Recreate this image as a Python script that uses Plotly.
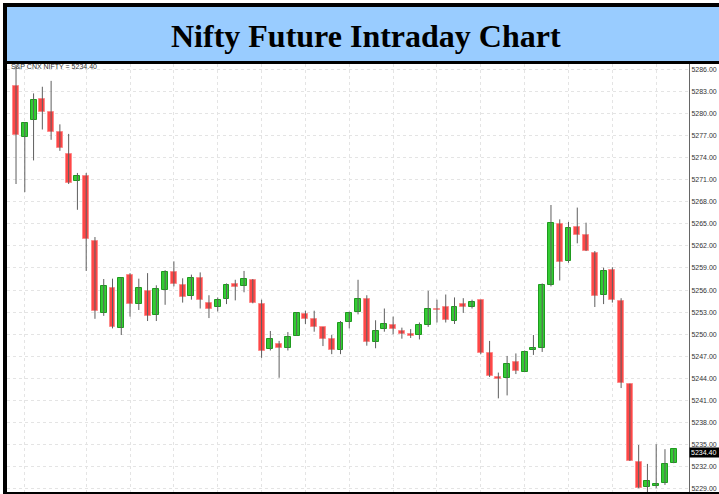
import plotly.graph_objects as go

# ---------------- data ----------------
opens = [5283.7, 5276.8, 5279.1, 5281.9, 5280.2, 5277.5, 5274.5, 5270.8, 5271.5, 5262.7,
         5252.9, 5256.3, 5250.9, 5258.05, 5254.1, 5255.9, 5252.6, 5256.0, 5258.4, 5256.7,
         5255.2, 5257.7, 5254.3, 5253.7, 5254.75, 5256.8, 5256.5, 5257.4, 5254.1, 5248.0,
         5248.7, 5248.2, 5249.8, 5252.76, 5252.1, 5250.95, 5249.4, 5247.9, 5251.6, 5253.07,
         5254.75, 5249.0, 5250.7, 5251.2, 5250.5, 5250.1, 5249.9, 5251.2, 5253.5, 5253.75,
         5251.85, 5254.1, 5253.7, 5254.7, 5247.4, 5244.25, 5244.0, 5246.2, 5244.9, 5247.9,
         5248.1, 5256.7, 5265.0, 5259.9, 5264.5, 5263.5, 5261.1, 5255.3, 5258.7, 5254.5,
         5243.2, 5232.6, 5229.3, 5229.4, 5229.86, 5232.57]
highs = [5286.6, 5278.8, 5282.7, 5283.6, 5284.4, 5278.5, 5277.2, 5271.9, 5271.9, 5263.2,
         5257.5, 5257.55, 5257.7, 5258.3, 5257.55, 5258.3, 5256.65, 5258.7, 5259.9, 5257.6,
         5258.1, 5258.4, 5255.3, 5255.0, 5256.9, 5257.4, 5258.6, 5257.5, 5254.7, 5250.45,
         5249.1, 5250.3, 5253.0, 5253.2, 5253.2, 5251.0, 5249.9, 5251.8, 5253.07, 5257.4,
         5255.3, 5251.9, 5253.5, 5252.4, 5250.9, 5250.7, 5251.6, 5255.9, 5254.7, 5255.4,
         5255.0, 5254.9, 5254.7, 5254.7, 5249.1, 5244.8, 5247.06, 5247.4, 5247.8, 5249.9,
         5256.9, 5267.55, 5265.6, 5265.25, 5267.2, 5265.15, 5261.3, 5259.04, 5259.1, 5254.9,
         5243.3, 5234.97, 5232.4, 5235.07, 5234.4, 5234.4]
lows = [5270.4, 5269.3, 5273.6, 5277.8, 5276.4, 5274.9, 5270.4, 5266.9, 5258.6, 5252.1,
        5252.5, 5250.8, 5249.9, 5252.4, 5253.3, 5251.8, 5251.8, 5254.0, 5256.5, 5254.3,
        5254.7, 5253.5, 5252.2, 5253.1, 5254.1, 5254.6, 5255.7, 5254.2, 5246.8, 5247.8,
        5244.1, 5247.8, 5249.8, 5251.4, 5250.35, 5248.4, 5247.3, 5247.3, 5250.8, 5252.7,
        5248.45, 5248.1, 5250.35, 5250.0, 5249.4, 5249.5, 5249.3, 5251.0, 5251.6, 5251.6,
        5251.4, 5252.9, 5253.5, 5247.3, 5244.2, 5241.3, 5241.7, 5244.6, 5244.9, 5247.2,
        5247.6, 5256.5, 5257.3, 5259.7, 5262.35, 5261.3, 5253.7, 5254.1, 5254.3, 5242.7,
        5232.8, 5229.1, 5228.4, 5229.1, 5229.55, 5232.5]
closes = [5277.05, 5278.7, 5281.8, 5280.2, 5277.4, 5275.25, 5270.6, 5271.5, 5262.9, 5253.1,
          5256.5, 5251.0, 5257.6, 5254.1, 5256.25, 5252.5, 5256.1, 5258.5, 5256.8, 5255.0,
          5257.7, 5254.6, 5253.5, 5254.6, 5256.7, 5256.4, 5257.5, 5254.3, 5247.7, 5249.3,
          5248.2, 5249.6, 5252.85, 5252.1, 5251.0, 5249.4, 5247.8, 5251.5, 5252.9, 5254.75,
          5248.9, 5250.5, 5251.36, 5250.7, 5250.1, 5249.7, 5251.26, 5253.5, 5253.3, 5252.0,
          5253.75, 5253.75, 5254.4, 5247.5, 5244.3, 5243.9, 5246.0, 5245.06, 5247.6, 5248.2,
          5256.65, 5265.07, 5259.8, 5264.4, 5263.5, 5261.3, 5255.2, 5258.55, 5254.7, 5243.35,
          5232.84, 5229.2, 5230.1, 5229.64, 5232.35, 5234.4]

y_tick_values = [5229, 5232, 5235, 5238, 5241, 5244, 5247, 5250, 5253, 5256,
                 5259, 5262, 5265, 5268, 5271, 5274, 5277, 5280, 5283, 5286]
y_tick_labels = ["5229.00", "5232.00", "5235.00", "5238.00", "5241.00", "5244.00",
                 "5247.00", "5250.00", "5253.00", "5256.00", "5259.00", "5262.00",
                 "5265.00", "5268.00", "5271.00", "5274.00", "5277.00", "5280.00",
                 "5283.00", "5286.00"]
x_grid_bars = [1, 8, 13, 18, 23, 28, 33, 38, 43, 48, 53, 58, 63, 68, 73]

chart_title = "Nifty Future Intraday Chart"
symbol_name = "S&P CNX NIFTY"
last_price = closes[-1]

# ---------------- marks ----------------
idx = list(range(len(opens)))
up = [c >= o for o, c in zip(opens, closes)]

wick_x, wick_y = [], []
for i, (h, l) in enumerate(zip(highs, lows)):
    wick_x += [i, i, None]
    wick_y += [l, h, None]

body_base = [min(o, c) for o, c in zip(opens, closes)]
body_len = [max(abs(c - o), 0.08) for o, c in zip(opens, closes)]
fill_cols = ["#33cc33" if u else "#ff4747" for u in up]
edge_cols = ["#1e9a1e" if u else "#ff8a8a" for u in up]

fig = go.Figure()
fig.add_trace(go.Scatter(x=wick_x, y=wick_y, mode="lines",
                         line=dict(color="#5e5e5e", width=1),
                         hoverinfo="skip", showlegend=False))
fig.add_trace(go.Bar(x=idx, y=body_len, base=body_base, width=0.68,
                     marker=dict(color=fill_cols, line=dict(color=edge_cols, width=1)),
                     showlegend=False))

W, H = 719, 494
ML, MR, MT, MB = 7, 30, 64, 2
PW, PH = W - ML - MR, H - MT - MB


def px_x(p):
    return (p - ML) / PW


def px_y(p):
    return 1 - (p - MT) / PH


shapes = [
    dict(type="rect", xref="paper", yref="paper", x0=px_x(3), x1=px_x(730),
         y0=px_y(64), y1=px_y(3), fillcolor="black", line=dict(width=0), layer="above"),
    dict(type="rect", xref="paper", yref="paper", x0=px_x(7), x1=px_x(730),
         y0=px_y(61), y1=px_y(7), fillcolor="#99ccff", line=dict(width=0), layer="above"),
    dict(type="rect", xref="paper", yref="paper", x0=px_x(3), x1=px_x(7),
         y0=px_y(496), y1=px_y(3), fillcolor="black", line=dict(width=0), layer="above"),
    dict(type="rect", xref="paper", yref="paper", x0=px_x(3), x1=px_x(730),
         y0=px_y(496), y1=px_y(492), fillcolor="black", line=dict(width=0), layer="above"),
]

annotations = [
    dict(text="<b>" + chart_title + "</b>", xref="paper", yref="paper",
         x=px_x(366), y=px_y(36), xanchor="center", yanchor="middle", showarrow=False,
         font=dict(family="Liberation Serif, Times New Roman, serif", size=32, color="black")),
    dict(text=f"{symbol_name} = {last_price:.2f}", xref="paper", yref="paper",
         x=px_x(9), y=px_y(66.5), xanchor="left", yanchor="middle", showarrow=False,
         font=dict(family="Liberation Sans, Arial, sans-serif", size=7, color="#333333")),
    dict(text=f"{last_price:.2f}", xref="paper", yref="y", x=1, y=last_price,
         xanchor="left", yanchor="middle", showarrow=False, yshift=-3,
         bgcolor="black", borderpad=1, width=29, align="left",
         font=dict(family="Liberation Sans, Arial, sans-serif", size=7, color="white")),
]

fig.update_layout(
    width=W, height=H,
    margin=dict(l=ML, r=MR, t=MT, b=MB),
    paper_bgcolor="white", plot_bgcolor="white",
    shapes=shapes, annotations=annotations,
    bargap=0, showlegend=False,
    xaxis=dict(range=[-1.03, 76.74], tickvals=x_grid_bars, showticklabels=False,
               showgrid=True, gridcolor="#e4e4e4", griddash="3px,3px", gridwidth=1,
               zeroline=False, showline=False, ticks="", fixedrange=True),
    yaxis=dict(range=[5228.59, 5286.69], side="right", tickvals=y_tick_values,
               ticktext=y_tick_labels, showgrid=True, gridcolor="#e4e4e4",
               griddash="3px,3px", gridwidth=1, zeroline=False, showline=True,
               linecolor="#666666", linewidth=1, ticks="", fixedrange=True,
               tickfont=dict(family="Liberation Sans, Arial, sans-serif", size=7,
                             color="#333333")),
)

fig.write_html("out.html",
               config={"displayModeBar": False},
               post_script="document.body.style.margin='0px';"
                           "document.body.style.overflow='hidden';")
